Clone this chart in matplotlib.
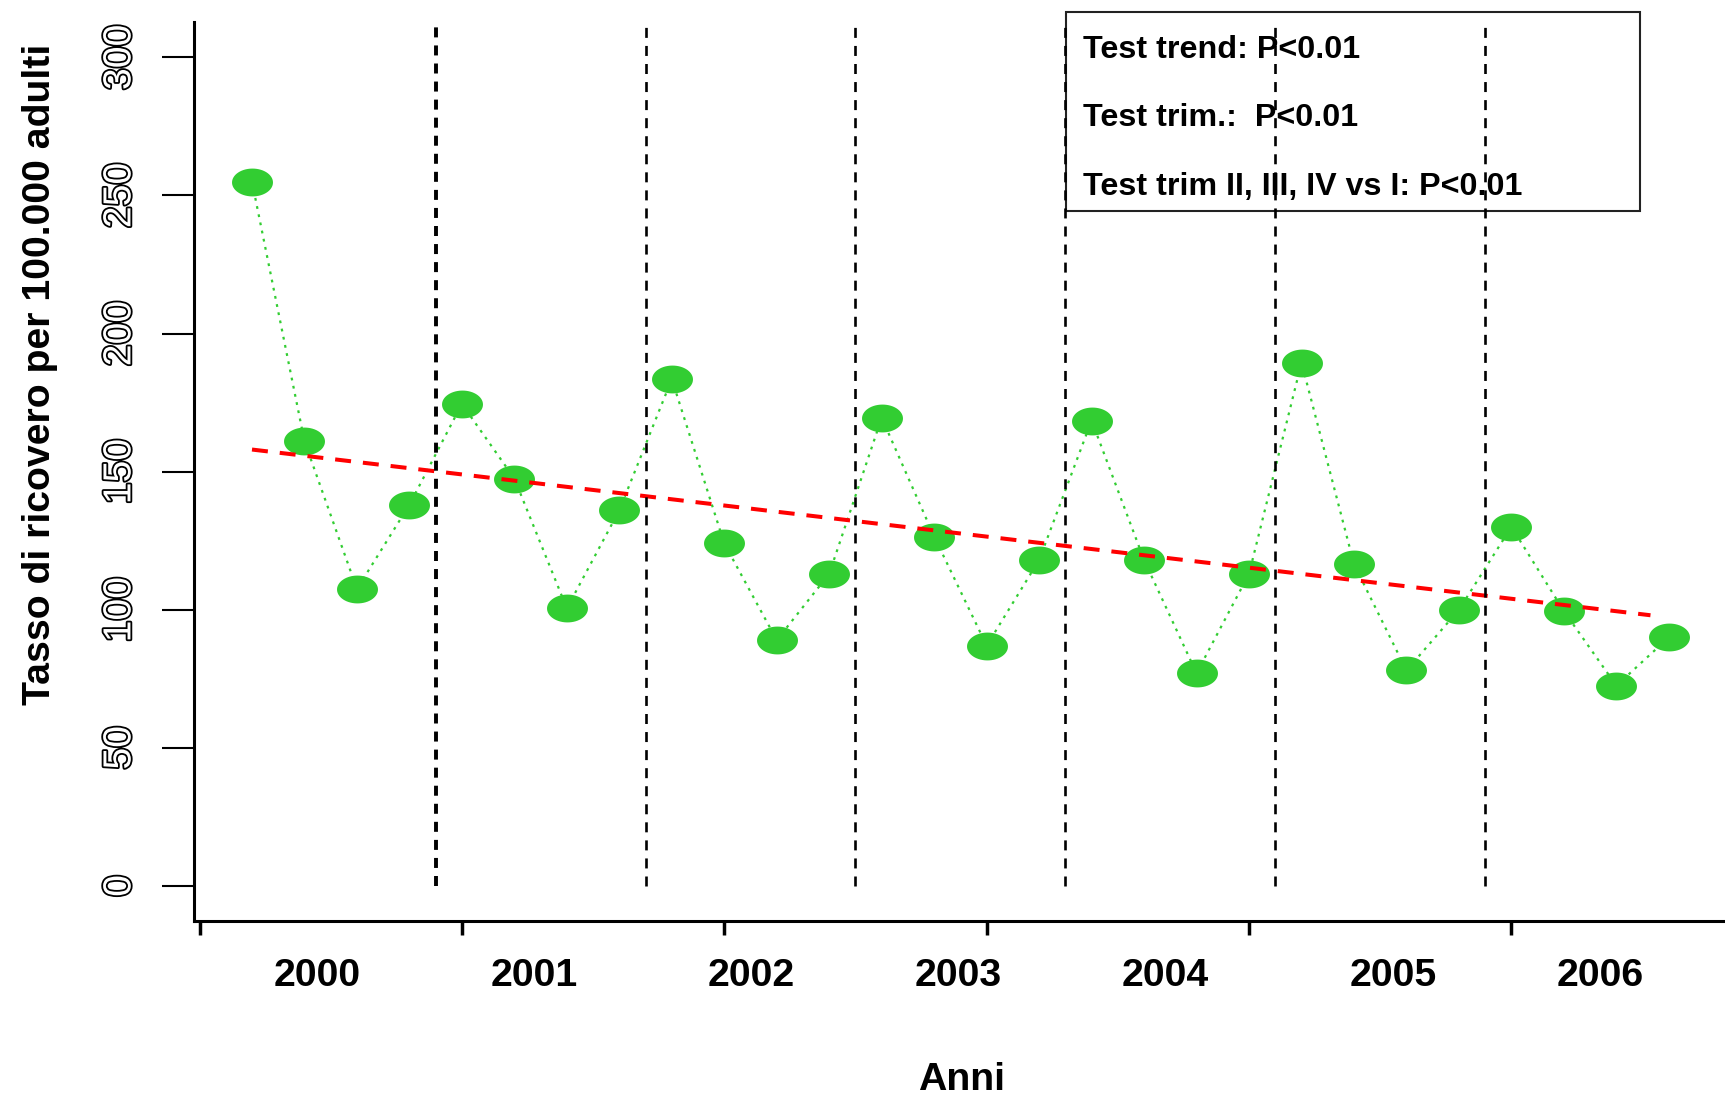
import matplotlib
matplotlib.use("Agg")
import matplotlib.pyplot as plt
import matplotlib.patheffects as pe
from matplotlib import font_manager
from matplotlib.path import Path
from matplotlib.patches import Rectangle
import numpy as np

# quarterly admission rate, 2000-2006 (28 quarters)
quarters = list(range(1, 29))
rates = [255, 161, 107.5, 138, 174.5, 147.5, 100.5, 136,
         183.5, 124, 89, 113, 169.5, 126.5, 87, 118,
         168.5, 118, 77, 113, 189.5, 116.5, 78, 100,
         130, 99.5, 72.5, 90]

trend_x = [1, 27.65]
trend_y = [158, 98]

year_breaks = [4.5, 8.5, 12.5, 16.5, 20.5, 24.5]
years = ["2000", "2001", "2002", "2003", "2004", "2005", "2006"]
year_pos = [2.24, 6.37, 10.51, 14.45, 18.40, 22.74, 26.70]

x_ticks = [0, 5, 10, 15, 20, 25]
y_ticks = [0, 50, 100, 150, 200, 250, 300]

notes = ["Test trend: P<0.01",
         "Test trim.:  P<0.01",
         "Test trim II, III, IV vs I: P<0.01"]

names = {f.name for f in font_manager.fontManager.ttflist}
if "Liberation Sans Narrow" in names:
    narrow, k = "Liberation Sans Narrow", 1.0
else:
    narrow, k = "Liberation Sans", 0.83

plt.rcParams["lines.scale_dashes"] = False

W, H = 1725, 1095
fig = plt.figure(figsize=(W / 100, H / 100), dpi=100)
ax = fig.add_axes([194 / W, 1 - 921 / H, 1 - 194 / W, (921 - 22) / H])
ax.set_xlim(-0.105, 29.07)
ax.set_ylim(-12.7, 312.8)

for s in ["top", "right"]:
    ax.spines[s].set_visible(False)
for s in ["left", "bottom"]:
    ax.spines[s].set_linewidth(2.2)

# ellipse marker (the circles look squashed in the original)
t = np.linspace(0, 2 * np.pi, 60)
ell = Path(np.column_stack([np.cos(t), 0.68 * np.sin(t)]), closed=True)

ax.plot(quarters, rates, color="#32CD32", lw=1.6, linestyle=(0, (2, 4)),
        marker=ell, markersize=29.5, markeredgewidth=0, zorder=3)
ax.plot(trend_x, trend_y, color="red", lw=2.9, linestyle=(0, (11.5, 8.6)),
        zorder=4)

widths = [2.8, 1.9, 1.9, 1.9, 1.9, 1.9]
for xb, w in zip(year_breaks, widths):
    ax.vlines(xb, 0, 312.8, color="black", lw=w, linestyle=(0, (7.2, 5.8)),
              zorder=5)

ax.set_xticks(x_ticks)
ax.set_xticklabels([""] * len(x_ticks))
ax.tick_params(axis="x", length=10, width=2.5, direction="out")

ax.set_yticks(y_ticks)
ax.set_yticklabels([str(v) for v in y_ticks], rotation=90, va="center",
                   family=narrow, fontsize=34 * k, color="white",
                   path_effects=[pe.Stroke(linewidth=2.6, foreground="black"),
                                 pe.Normal()])
ax.tick_params(axis="y", length=23, width=1.5, pad=17, direction="out")

# year labels: x in data units, y in figure units
year_tr = matplotlib.transforms.blended_transform_factory(ax.transData,
                                                          fig.transFigure)
for lab, xp in zip(years, year_pos):
    ax.text(xp, 1 - 986 / H, lab, transform=year_tr,
            ha="center", va="baseline", family=narrow, weight="bold",
            fontsize=34 * k, clip_on=False)

fig.text(961.5 / W, 1 - 1090 / H, "Anni", ha="center", va="baseline",
         family=narrow, weight="bold", fontsize=34 * k)
fig.text(50 / W, 1 - 374.5 / H, "Tasso di ricovero per 100.000 adulti",
         rotation=90, rotation_mode="anchor", ha="center", va="baseline",
         family=narrow, weight="bold", fontsize=34 * k)

box = Rectangle((1066 / W, 1 - 211 / H), (1640 - 1066) / W, (211 - 12) / H,
                transform=fig.transFigure, fill=False, edgecolor="#222222",
                lw=1.5, clip_on=False, zorder=1)
ax.add_patch(box)
for i, note in enumerate(notes):
    ax.text(1083 / W, 1 - (58 + 68.5 * i) / H, note, transform=fig.transFigure,
            ha="left", va="baseline", family=narrow, weight="bold",
            fontsize=28 * k, clip_on=False, zorder=1.5)

fig.savefig("out.png", dpi=100)
